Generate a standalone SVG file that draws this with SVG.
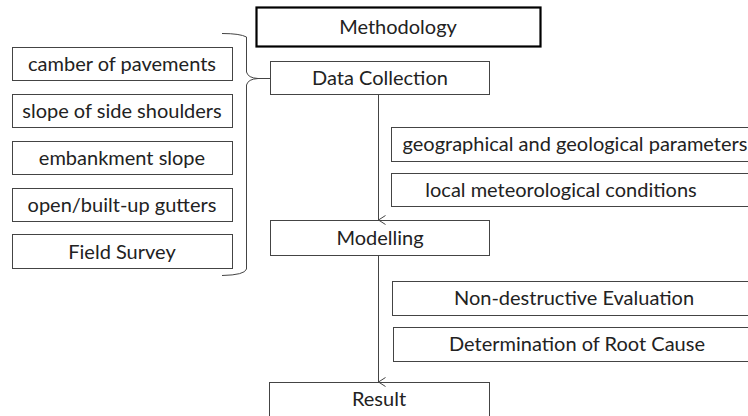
<svg xmlns="http://www.w3.org/2000/svg" width="748" height="416" viewBox="0 0 748 416">
<style>
rect{fill:#fff;stroke:#444;stroke-width:1}
.thick{stroke:#000;stroke-width:2.2}
text{font-family:Lato,"Open Sans","Liberation Sans",sans-serif;font-size:20px;fill:#222;text-anchor:middle}
.c{fill:none;stroke:#444;stroke-width:1}
</style>
<defs>
<marker id="ah" markerWidth="10" markerHeight="10" refX="5" refY="9" orient="auto" markerUnits="userSpaceOnUse" viewBox="0 0 10 10">
<path d="M0.5 2 L5 9 L9.5 2" fill="none" stroke="#444" stroke-width="1"/>
</marker>
</defs>
<rect width="748" height="416" style="fill:#fff;stroke:none"/>
<g id="methodology"><rect class="thick" x="256.5" y="7.5" width="284" height="39"/><text x="398" y="34">Methodology</text></g>
<g id="data-collection"><rect x="270.5" y="61.5" width="219" height="33"/><text x="380" y="85">Data Collection</text></g>
<g id="camber"><rect x="12.5" y="47.5" width="220" height="33"/><text x="122" y="71">camber of pavements</text></g>
<g id="slope-shoulders"><rect x="12.5" y="94.5" width="220" height="33"/><text x="122" y="118">slope of side shoulders</text></g>
<g id="embankment"><rect x="12.5" y="141.5" width="220" height="33"/><text x="122" y="165">embankment slope</text></g>
<g id="gutters"><rect x="12.5" y="188.5" width="220" height="33"/><text x="122" y="212">open/built-up gutters</text></g>
<g id="field-survey"><rect x="12.5" y="234.5" width="220" height="34"/><text x="122" y="259">Field Survey</text></g>
<g id="geo"><rect x="391.5" y="127.5" width="360" height="34"/><text x="575" y="151">geographical and geological parameters</text></g>
<g id="meteo"><rect x="391.5" y="173.5" width="360" height="33"/><text x="561" y="197">local meteorological conditions</text></g>
<g id="modelling"><rect x="270.5" y="220.5" width="219" height="35"/><text x="380" y="245">Modelling</text></g>
<g id="nde"><rect x="392.5" y="281.5" width="360" height="34"/><text x="574" y="305">Non-destructive Evaluation</text></g>
<g id="root-cause"><rect x="393.5" y="327.5" width="360" height="34"/><text x="577" y="351">Determination of Root Cause</text></g>
<g id="result"><rect x="269.5" y="382.5" width="220" height="35"/><text x="379" y="406">Result</text></g>
<g id="connectors">
<path class="c" d="M222 33.5 Q240 33.5 246.5 37 L246.5 72 Q248 78 258 78.5 L270 78.5 M258 78.5 Q248 79 246.5 85 L246.5 269 Q245 275 222 275.5"/>
<line class="c" x1="378.5" y1="94" x2="378.5" y2="220" marker-end="url(#ah)"/>
<line class="c" x1="378.5" y1="256" x2="378.5" y2="382" marker-end="url(#ah)"/>
</g>
</svg>
